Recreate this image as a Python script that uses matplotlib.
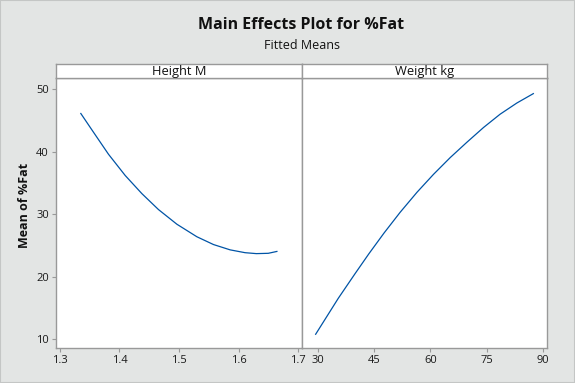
import matplotlib
matplotlib.use("Agg")
import matplotlib.pyplot as plt
from matplotlib.patches import Rectangle

# Data
height_m = [1.335, 1.3536, 1.3815, 1.4096, 1.4376, 1.4655, 1.4965, 1.530, 1.558, 1.586, 1.611, 1.630, 1.650, 1.6645]
height_fat = [46.12, 43.5, 39.6, 36.2, 33.3, 30.75, 28.4, 26.4, 25.15, 24.3, 23.85, 23.7, 23.75, 24.05]
weight_kg = [29.3, 35.36, 39.83, 43.5, 47.6, 51.9, 56.4, 60.8, 65.3, 69.7, 74.2, 78.6, 83.1, 87.5]
weight_fat = [10.8, 16.56, 20.49, 23.65, 27.01, 30.32, 33.52, 36.38, 39.08, 41.5, 43.89, 46.0, 47.8, 49.3]
height_ticks = [1.3, 1.4, 1.5, 1.6, 1.7]
weight_ticks = [30, 45, 60, 75, 90]
y_ticks = [10, 20, 30, 40, 50]
panel_titles = ["Height M", "Weight kg"]

plt.rcParams['font.family'] = ['Open Sans', 'DejaVu Sans']

W, H = 575, 383
bg = '#e3e5e4'
frame = '#999999'
line_col = '#0054a6'

fig = plt.figure(figsize=(W/100, H/100), dpi=100, facecolor=bg)

def fx(px): return px / W
def fy(py): return 1 - py / H

x0, xm, x1 = 56, 302, 547
ytop, ystrip, ybot = 63.5, 78.3, 348

axL = fig.add_axes([fx(x0), fy(ybot), fx(xm - x0), (ybot - ystrip) / H])
axR = fig.add_axes([fx(xm), fy(ybot), fx(x1 - xm), (ybot - ystrip) / H], sharey=axL)

axL.plot(height_m, height_fat, color=line_col, lw=0.9)
axR.plot(weight_kg, weight_fat, color=line_col, lw=0.9)

axL.set_xlim(1.2933, 1.7067)
axR.set_xlim(25.65, 91.15)
axL.set_ylim(8.6, 51.75)

axL.set_xticks(height_ticks)
axL.set_xticklabels([f"{t:.1f}" for t in height_ticks])
axR.set_xticks(weight_ticks)
axL.set_yticks(y_ticks)

for ax in (axL, axR):
    ax.set_facecolor('white')
    for s in ax.spines.values():
        s.set_color(frame)
        s.set_linewidth(1.0)
    ax.tick_params(axis='both', colors=frame, labelcolor='#1a1a1a', labelsize=8,
                   length=3, width=0.8, direction='out', pad=2)
axR.tick_params(axis='y', left=False, labelleft=False)

# strips
for i, (a, b) in enumerate([(x0, xm), (xm, x1)]):
    sax = fig.add_axes([fx(a), fy(ystrip), fx(b - a), (ystrip - ytop) / H])
    sax.set_facecolor('white')
    sax.set_xticks([]); sax.set_yticks([])
    for s in sax.spines.values():
        s.set_color(frame)
        s.set_linewidth(1.0)
    sax.text(0.5, 0.45, panel_titles[i], ha='center', va='center',
             fontsize=9.3, color='#111111', transform=sax.transAxes)

cx = fx((x0 + x1) / 2)
fig.text(cx, fy(25), "Main Effects Plot for %Fat", ha='center', va='center',
         fontsize=11.5, fontweight='bold', color='#111111')
fig.text(cx, fy(45.5), "Fitted Means", ha='center', va='center',
         fontsize=9, color='#111111')
fig.text(fx(24), fy((ytop + ybot) / 2), "Mean of %Fat", rotation=90,
         ha='center', va='center', fontsize=9, fontweight='bold', color='#111111')

fig.patches.append(Rectangle((0, 0), 1, 1, transform=fig.transFigure,
                             fill=False, edgecolor='#c4c6c5', lw=1.5))

fig.savefig("out.png", dpi=100, facecolor=bg)
